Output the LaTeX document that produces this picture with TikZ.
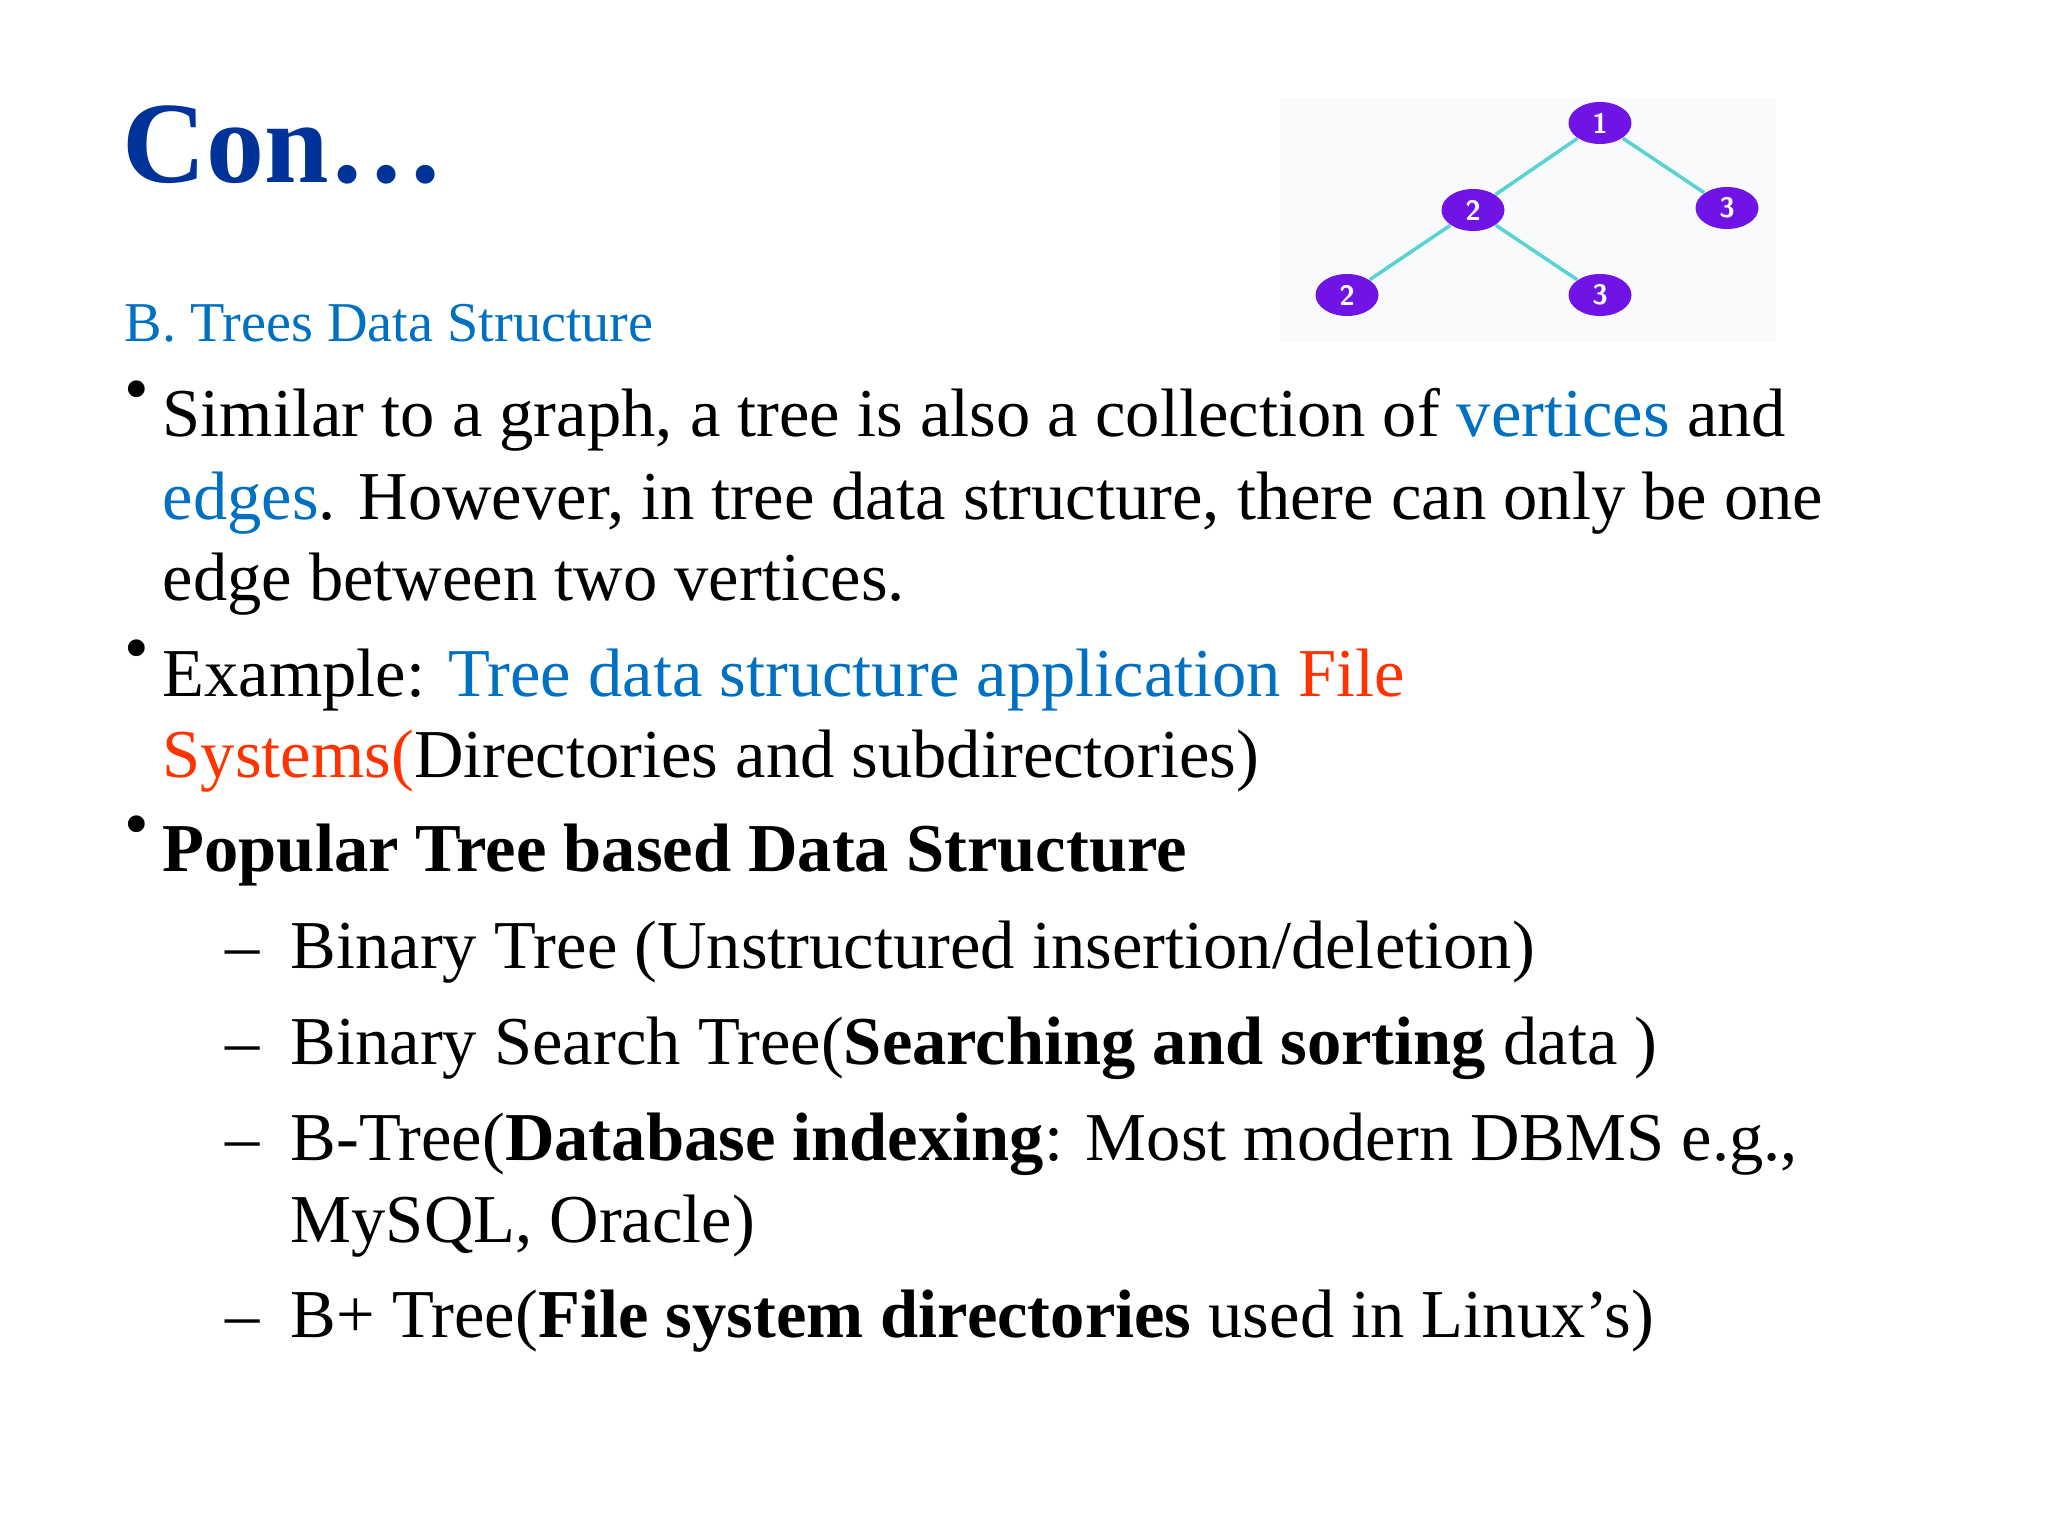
\documentclass[tikz,border=0pt]{standalone}
\usepackage{fontspec}
\setmainfont{Liberation Serif}
\usetikzlibrary{shapes.geometric}
\definecolor{titleblue}{RGB}{0,51,153}
\definecolor{tblue}{RGB}{0,112,192}
\definecolor{tred}{RGB}{255,51,0}
\definecolor{tpurple}{RGB}{112,20,230}
\definecolor{tedge}{RGB}{90,210,210}
\definecolor{tbg}{RGB}{248,250,252}
\tikzset{
 line/.style={anchor=base west,inner sep=0pt,font=\fontsize{19.5}{24}\selectfont},
 bul/.style={anchor=base west,inner sep=0pt,font=\fontsize{14}{16}\selectfont},
 tn/.style={ellipse,fill=tpurple,minimum width=0.63cm,minimum height=0.42cm,inner sep=0pt,text=white,font=\sffamily\bfseries\fontsize{8}{9}\selectfont},
 te/.style={tedge,line width=1pt}
}
\begin{document}
\begin{tikzpicture}[x=1cm,y=-1cm]
\useasboundingbox (0,0) rectangle (20.48,15.36);
\fill[white] (0,0) rectangle (20.48,15.36);
% tree picture
\fill[tbg] (12.80,0.98) rectangle (17.76,3.42);
\node[tn] (n1) at (16.00,1.23) {1};
\node[tn] (n2) at (14.73,2.10) {2};
\node[tn] (n3) at (17.27,2.08) {3};
\node[tn] (n4) at (13.47,2.95) {2};
\node[tn] (n5) at (16.00,2.95) {3};
\draw[te] (n1) -- (n2);
\draw[te] (n1) -- (n3);
\draw[te] (n2) -- (n4);
\draw[te] (n2) -- (n5);
% title
\node[anchor=base west,inner sep=0pt,text=titleblue,font=\bfseries\fontsize{33}{36}\selectfont] (title) at (1.22,1.83) {Con…};
\node[anchor=base west,inner sep=0pt,text=tblue,font=\fontsize{16}{19}\selectfont] (sub) at (1.24,3.42) {B. Trees Data Structure};
% bullets
\node[bul] (b1) at (1.24,4.20) {\raisebox{2pt}{\fontsize{20}{20}\selectfont •}};
\node[line] (l1) at (1.62,4.37) {Similar to a graph, a tree is also a collection of \textcolor{tblue}{vertices} and};
\node[line] (l2) at (1.62,5.20) {\textcolor{tblue}{edges}. However, in tree data structure, there can only be one};
\node[line] (l3) at (1.62,6.01) {edge between two vertices.};
\node[bul] (b2) at (1.24,6.79) {\raisebox{2pt}{\fontsize{20}{20}\selectfont •}};
\node[line] (l4) at (1.62,6.96) {Example: \textcolor{tblue}{Tree data structure application} \textcolor{tred}{File}};
\node[line] (l5) at (1.62,7.78) {\textcolor{tred}{Systems(}Directories and subdirectories)};
\node[bul] (b3) at (1.24,8.55) {\raisebox{2pt}{\fontsize{20}{20}\selectfont •}};
\node[line] (l6) at (1.62,8.72) {\textbf{Popular Tree based Data Structure}};
\node[line] (d1) at (2.25,9.68) {–};
\node[line] (s1) at (2.90,9.68) {Binary Tree (Unstructured insertion/deletion)};
\node[line] (d2) at (2.25,10.64) {–};
\node[line] (s2) at (2.90,10.64) {Binary Search Tree(\textbf{Searching and sorting} data )};
\node[line] (d3) at (2.25,11.60) {–};
\node[line] (s3) at (2.90,11.60) {B-Tree(\textbf{Database indexing}: Most modern DBMS e.g.,};
\node[line] (s4) at (2.90,12.42) {MySQL, Oracle)};
\node[line] (d4) at (2.25,13.37) {–};
\node[line] (s5) at (2.90,13.37) {B+ Tree(\textbf{File system directories} used in Linux\symbol{39}s)};
\end{tikzpicture}
\end{document}
